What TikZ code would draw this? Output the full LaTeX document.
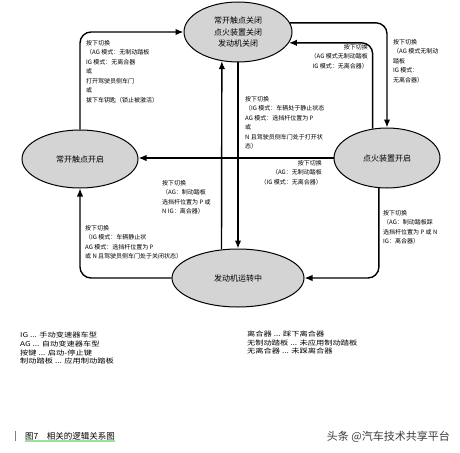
\documentclass[tikz,border=0pt]{standalone}
\usepackage{fontspec}
\setmainfont{Noto Sans CJK SC}
\newfontfamily\widecjk[FakeStretch=1.25]{Noto Sans CJK SC}
\usepackage{tikz}
\usetikzlibrary{shapes,arrows.meta}
\definecolor{stategray}{RGB}{212, 212, 212}
\definecolor{capgreen}{RGB}{110, 215, 110}
\definecolor{markgray}{RGB}{60, 60, 60}
\tikzstyle{state} = [ellipse, draw=black, line width=1pt, fill=stategray, align=center, inner sep=0pt, font=\fontsize{8}{11.5}\selectfont]
\tikzstyle{cond} = [draw=none, fill=none, inner sep=0pt, align=left, font=\fontsize{6}{9.5}\selectfont]
\tikzstyle{keytext} = [draw=none, fill=none, inner sep=0pt, align=left, font=\widecjk\fontsize{6.6}{8.6}\selectfont]
\tikzstyle{tedge}  = [draw, line width=1.4pt, >={Latex[length=8pt,width=6.5pt]}, ->, rounded corners=11pt]

\begin{document}
\begin{tikzpicture}[x=1pt, y=-1pt]
\useasboundingbox[fill=white] (0,0) rectangle (460,452);

% states =============================

\node[state, minimum width=108pt, minimum height=60pt] (off) at (238,32) {常开触点关闭\\点火装置关闭\\发动机关闭};
\node[state, minimum width=116pt, minimum height=58pt] (contact) at (80,159) {常开触点开启};
\node[state, minimum width=106pt, minimum height=60pt] (ign) at (387,158) {点火装置开启};
\node[state, minimum width=132pt, minimum height=58pt] (run) at (238,278) {发动机运转中};

% edges =============================

\path[tedge] (contact.north) |- (off.west);
\path[tedge] (off.10) -| (ign.north);
\path[tedge] (ign.116) |- (off.-12);
\path[tedge] (off.south) -- (run.north);
\path[tedge] (run.120) -- (off.241);
\path[tedge] (ign.west) -- (ign.west -| contact.east);
\path[tedge] (run.west) -| (contact.south);
\path[tedge] (ign.255) |- (run.east);

% conditions on the edges
\node[cond, anchor=north west] (c1) at (86,40) {按下切换\\（AG 模式：无制动踏板\\IG 模式：无离合器\\或\\打开驾驶员侧车门\\或\\拔下车钥匙（锁止被激活）};
\node[cond, anchor=north west] (c2) at (393,39) {按下切换\\（AG 模式无制动\\踏板\\IG 模式：\\无离合器）};
\node[cond, anchor=north east, align=right] (c3) at (368,44) {按下切换\\（AG 模式无制动踏板\\IG 模式：无离合器）};
\node[cond, anchor=north west] (c4) at (245,96) {按下切换\\（IG 模式：车辆处于静止状态\\AG 模式：选挡杆位置为 P\\或\\N 且驾驶员侧车门处于打开状\\态）};
\node[cond, anchor=north east, align=right] (c5) at (322,160) {按下切换\\（AG：无制动踏板\\（IG 模式：无离合器）};
\node[cond, anchor=north west] (c6) at (162,180) {按下切换\\（AG：制动踏板\\选挡杆位置为 P 或\\N IG：离合器）};
\node[cond, anchor=north west] (c7) at (85,225) {按下切换\\（IG 模式：车辆静止状\\AG 模式：选挡杆位置为 P\\或 N 且驾驶员侧车门处于关闭状态）};
\node[cond, anchor=north west] (c8) at (383,210) {按下切换\\（AG：制动踏板踩\\选挡杆位置为 P 或 N\\IG：离合器）};

% key
\node[keytext, anchor=north west] (keyl) at (20,332) {IG ... 手动变速器车型\\AG ... 自动变速器车型\\按键 ... 启动-停止键\\制动踏板 ... 应用制动踏板};
\node[keytext, anchor=north west] (keyr) at (247,331) {离合器 ... 踩下离合器\\无制动踏板 ... 未应用制动踏板\\无离合器 ... 未踩离合器};

% caption and mark
\draw[gray, line width=1pt] (15,431) -- (15,441);
\node[anchor=west, inner sep=0pt, font=\fontsize{8.5}{10}\selectfont] (caption) at (25,436) {图7\quad 相关的逻辑关系图};
\draw[capgreen, line width=2pt, opacity=0.7] ([yshift=-1pt]caption.south west) -- ([yshift=-1pt]caption.south east);
\node[anchor=east, inner sep=0pt, text=markgray, font=\fontsize{11}{13}\selectfont] (mark) at (450,437) {头条 @汽车技术共享平台};

\end{tikzpicture}
\end{document}
